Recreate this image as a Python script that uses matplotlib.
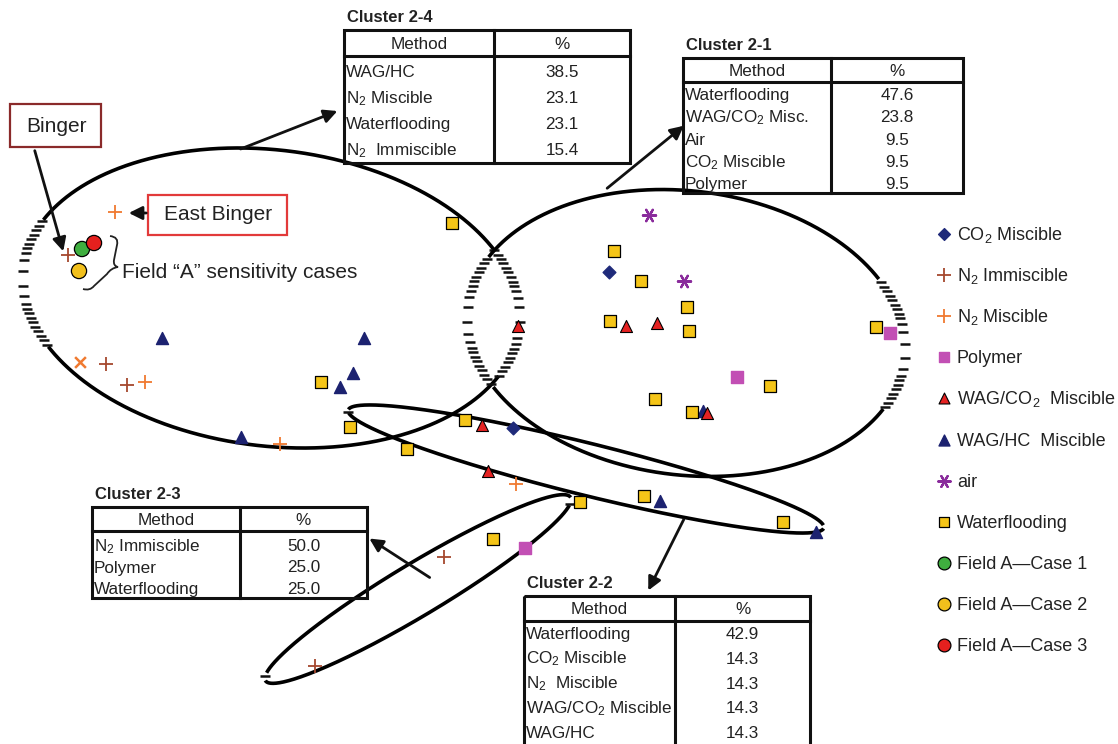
import numpy as np
import matplotlib
matplotlib.use("Agg")
import matplotlib.pyplot as plt
import matplotlib.patches as mpatches
from matplotlib.path import Path

plt.rcParams['font.family'] = ['Liberation Sans', 'DejaVu Sans']
plt.rcParams['mathtext.fontset'] = 'custom'
plt.rcParams['mathtext.rm'] = 'Liberation Sans'
plt.rcParams['mathtext.it'] = 'Liberation Sans'

TXT = '#222222'

# ---- scatter data (positions on the cluster map, picture units) ----
co2_x = [609, 513]
co2_y = [272, 428]
n2_imm_x = [68, 106, 127, 444, 315]
n2_imm_y = [255, 364, 385, 557, 666]
n2_mis_x = [115, 145, 280, 516]
n2_mis_y = [212, 382, 444, 484]
n2_mis_cross_x = [80]
n2_mis_cross_y = [362]
polymer_x = [737, 890, 525]
polymer_y = [377, 333, 548]
wag_co2_x = [518, 626, 657, 482, 488, 707]
wag_co2_y = [326, 326, 323, 425, 471, 413]
wag_hc_x = [162, 364, 353, 340, 241, 660, 703, 816]
wag_hc_y = [338, 338, 373, 387, 437, 501, 411, 532]
air_x = [649, 684]
air_y = [215, 281]
water_x = [452, 614, 641, 687, 610, 689, 876, 770, 655, 692, 465, 644, 580, 783,
           321, 350, 407, 493]
water_y = [223, 251, 281, 307, 321, 331, 327, 386, 399, 412, 420, 496, 502, 522,
           382, 427, 449, 539]
case_x = [82, 79, 94]
case_y = [249, 271, 243]
case_names = ['Field A\u2014Case 1', 'Field A\u2014Case 2', 'Field A\u2014Case 3']
case_colors = ['#3fae3f', '#f2c01c', '#e5201e']

# ---- cluster tables ----
tables = {
    'Cluster 2-4': (['WAG/HC', 'N$_2$ Miscible', 'Waterflooding', 'N$_2$  Immiscible'],
                    ['38.5', '23.1', '23.1', '15.4']),
    'Cluster 2-1': (['Waterflooding', 'WAG/CO$_2$ Misc.', 'Air', 'CO$_2$ Miscible', 'Polymer'],
                    ['47.6', '23.8', '9.5', '9.5', '9.5']),
    'Cluster 2-3': (['N$_2$ Immiscible', 'Polymer', 'Waterflooding'],
                    ['50.0', '25.0', '25.0']),
    'Cluster 2-2': (['Waterflooding', 'CO$_2$ Miscible', 'N$_2$  Miscible',
                     'WAG/CO$_2$ Miscible', 'WAG/HC'],
                    ['42.9', '14.3', '14.3', '14.3', '14.3']),
}
# left, top, divider, right, header bottom, bottom, first row offset, row height
table_layout = {
    'Cluster 2-4': (344, 30, 494, 630, 56, 163, 15, 26),
    'Cluster 2-1': (683, 58, 831, 963, 82, 193, 12, 22.3),
    'Cluster 2-3': (92, 507, 240, 367, 531, 598, 14, 21.5),
    'Cluster 2-2': (524, 596, 675, 810, 621, 746, 12, 24.8),
}

fig = plt.figure(figsize=(11.18, 7.44), dpi=100)
ax = fig.add_axes([0, 0, 1, 1])
ax.set_xlim(0, 1118)
ax.set_ylim(744, 0)
ax.axis('off')


def draw_cluster(c, w, h, ang, steep=52):
    # solid outline where flat, stacked short dashes where steep (as in the scan)
    t = np.linspace(0, 2 * np.pi, 4000)
    a = np.deg2rad(ang)
    ex, ey = w / 2 * np.cos(t), h / 2 * np.sin(t)
    x = c[0] + ex * np.cos(a) - ey * np.sin(a)
    y = c[1] + ex * np.sin(a) + ey * np.cos(a)
    dx, dy = np.gradient(x), np.gradient(y)
    slope = np.degrees(np.arctan2(np.abs(dy), np.abs(dx)))
    is_steep = slope > steep
    ax.plot(np.where(is_steep, np.nan, x), np.where(is_steep, np.nan, y),
            color='black', lw=2.6, zorder=2, solid_capstyle='butt')
    # dash spacing grows where the outline is nearly vertical
    gap = 4.5 + 12 * np.clip((slope - 72) / 18, 0, 1)
    step = np.floor(np.cumsum(np.abs(dy) / gap))
    pick = is_steep & (np.diff(step, prepend=step[0]) != 0)
    ax.plot(x[pick], y[pick], ls='none', marker='_', ms=6.5, mew=1.8,
            color='#111111', zorder=2)


draw_cluster((271, 298), 500, 296, 7)
draw_cluster((686, 333), 440, 284, 7)
draw_cluster((586, 469), 490, 52, 13.9, steep=62)
draw_cluster((418, 589), 356, 52, -31, steep=62)

# ---- markers ----
ms = 72
ax.scatter(co2_x, co2_y, marker='D', s=42, color='#1f2a7a', zorder=4)
ax.scatter(n2_imm_x, n2_imm_y, marker='+', s=90, color='#a5482e', lw=1.3, zorder=4)
ax.scatter(n2_mis_x, n2_mis_y, marker='+', s=90, color='#f07a30', lw=1.3, zorder=4)
ax.scatter(n2_mis_cross_x, n2_mis_cross_y, marker='x', s=60, color='#f07a30', lw=1.8, zorder=4)
ax.scatter(polymer_x, polymer_y, marker='s', s=ms, color='#c24fb4', zorder=4)
ax.scatter(wag_hc_x, wag_hc_y, marker='^', s=75, color='#1c2270', zorder=4)
ax.scatter(wag_co2_x, wag_co2_y, marker='^', s=75, color='#e52222', edgecolor='black',
           lw=0.8, zorder=5)
ax.scatter(air_x, air_y, marker=(6, 2, 90), s=90, color='#8a2c9c', lw=1.6, zorder=4)
ax.scatter(water_x, water_y, marker='s', s=ms, color='#f5c518', edgecolor='black', lw=0.9,
           zorder=4)
ax.scatter(case_x, case_y, marker='o', s=120, c=case_colors, edgecolor='black', lw=0.9,
           zorder=5)

# ---- legend (drawn by hand to keep the original spacing) ----
legend_labels = ['CO$_2$ Miscible', 'N$_2$ Immiscible', 'N$_2$ Miscible', 'Polymer',
                 'WAG/CO$_2$  Miscible', 'WAG/HC  Miscible', 'air', 'Waterflooding'] + case_names
legend_style = [dict(marker='D', s=36, color='#1f2a7a'),
                dict(marker='+', s=90, color='#a5482e', lw=1.3),
                dict(marker='+', s=90, color='#f07a30', lw=1.3),
                dict(marker='s', s=60, color='#c24fb4'),
                dict(marker='^', s=62, color='#e52222', edgecolor='black', lw=0.8),
                dict(marker='^', s=62, color='#1c2270'),
                dict(marker=(6, 2, 90), s=80, color='#8a2c9c', lw=1.6),
                dict(marker='s', s=55, color='#f5c518', edgecolor='black', lw=0.9)] + \
               [dict(marker='o', s=85, color=cc, edgecolor='black', lw=0.9) for cc in case_colors]
for i, (lab, st) in enumerate(zip(legend_labels, legend_style)):
    yy = 234 + 41.1 * i
    ax.scatter([944], [yy], zorder=5, **st)
    ax.text(957, yy + 6, lab, ha='left', va='baseline', fontsize=13, color=TXT)

# ---- tables ----
for name, (methods, pcts) in tables.items():
    l, t, d, r, hb, b, f0, rh = table_layout[name]
    ax.text(l + 3, t - 8, name, fontsize=12, fontweight='bold', color=TXT, va='baseline')
    ax.add_patch(mpatches.Rectangle((l, t), r - l, b - t, fill=False, edgecolor='#111111',
                                    lw=2.2, zorder=6, clip_on=False))
    ax.plot([d, d], [t, b], color='#111111', lw=2.2, zorder=6, clip_on=False)
    ax.plot([l, r], [hb, hb], color='#111111', lw=2.2, zorder=6)
    ax.text((l + d) / 2, (t + hb) / 2 + 6, 'Method', ha='center', va='baseline',
            fontsize=12.3, color=TXT)
    ax.text((d + r) / 2, (t + hb) / 2 + 6, '%', ha='center', va='baseline', fontsize=12.3,
            color=TXT)
    for i, (m, p) in enumerate(zip(methods, pcts)):
        yy = hb + f0 + rh * i + 6
        ax.text(l + 2, yy, m, ha='left', va='baseline', fontsize=12.3, color=TXT)
        ax.text((d + r) / 2, yy, p, ha='center', va='baseline', fontsize=12.3, color=TXT)

# ---- arrows to tables ----
arrow_kw = dict(arrowstyle='-|>', color='#111111', lw=2, mutation_scale=20)
for start, end in [((238, 150), (340, 110)), ((605, 190), (686, 124)),
                   ((432, 579), (367, 537)), ((685, 517), (647, 593))]:
    ax.annotate('', xy=end, xytext=start, arrowprops=arrow_kw, zorder=7)

# ---- Binger / East Binger labels ----
ax.add_patch(mpatches.Rectangle((10, 104), 91, 43, fc='white', ec='#8a2a2a', lw=1.6, zorder=6))
ax.text(56, 126, 'Binger', ha='center', va='center', fontsize=15, color=TXT, zorder=7)
ax.annotate('', xy=(64, 254), xytext=(34, 148), arrowprops=arrow_kw, zorder=7)
ax.add_patch(mpatches.Rectangle((148, 195), 139, 40, fc='white', ec='#e23a3a', lw=1.6, zorder=6))
ax.text(218, 215, 'East Binger', ha='center', va='center', fontsize=15, color=TXT, zorder=7)
ax.annotate('', xy=(126, 213), xytext=(149, 213), arrowprops=arrow_kw, zorder=7)

# brace and caption for the field A cases
verts = [(110, 236), (119, 237), (117, 245), (114, 260), (113, 266), (118, 267),
         (111, 268), (107, 274), (94, 286), (90, 291), (83, 289)]
codes = [Path.MOVETO, Path.CURVE3, Path.CURVE3, Path.LINETO, Path.CURVE3, Path.CURVE3,
         Path.CURVE3, Path.CURVE3, Path.LINETO, Path.CURVE3, Path.CURVE3]
ax.add_patch(mpatches.PathPatch(Path(verts, codes), fill=False, edgecolor='#222222', lw=1.3))
ax.text(122, 272, 'Field \u201cA\u201d sensitivity cases', ha='left', va='center',
        fontsize=15, color=TXT)

fig.savefig('out.png', dpi=100)
